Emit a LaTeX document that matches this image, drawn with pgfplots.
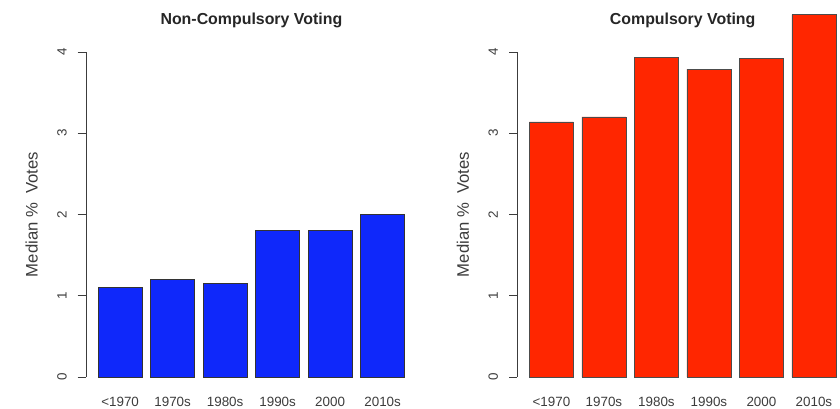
\documentclass[border=0pt]{standalone}
\usepackage{pgfplots}
\pgfplotsset{compat=1.18}
\usepackage{fontspec}
\setmainfont{Liberation Sans}

\definecolor{barblue}{RGB}{15,40,250}
\definecolor{barred}{RGB}{255,38,0}
\definecolor{axgray}{RGB}{60,60,60}

\newcommand\tickfont{\fontsize{13.4bp}{16bp}\selectfont}
\newcommand\titlefont{\fontsize{15.9bp}{18bp}\selectfont\bfseries}
\newcommand\labfont{\fontsize{16.7bp}{20bp}\selectfont}

% one R-style barplot panel
\pgfplotsset{
  rpanel/.style={
    scale only axis,
    width=330.75bp, height=325bp,
    xmin=-0.65, xmax=5.65,
    ymin=0, ymax=4,
    clip=false,
    axis y line=left,
    axis x line*=bottom,
    x axis line style={draw=none},
    y axis line style={-, draw=axgray, line width=0.6bp},
    tick align=outside,
    major tick length=8.3bp,
    major x tick style={draw=none},
    major y tick style={draw=axgray, line width=0.6bp},
    xtick={0,...,5},
    xticklabels={<1970,1970s,1980s,1990s,2000,2010s},
    ytick={0,1,2,3,4},
    /pgf/number format/assume math mode=true,
    xticklabel style={font=\tickfont, text=axgray, anchor=base, yshift=-20.7bp},
    yticklabel style={font=\tickfont, text=axgray, xshift=-11.2bp, rotate=90, anchor=base},
    every axis title shift=0pt,
    title style={font=\titlefont, text=black!85, at={(axis description cs:0.5,1)}, anchor=base, yshift=28bp},
    ylabel={Median \%\ \ Votes},
    ylabel style={font=\labfont, text=axgray, at={([xshift=-48.5bp]axis description cs:0,0.5)}, anchor=base},
    ybar, bar width=44bp,
  },
}

\begin{document}
\begin{tikzpicture}
\useasboundingbox (0,0) rectangle (840bp,409bp);

\begin{axis}[rpanel, at={(86bp,32bp)}, anchor=south west,
  title={Non-Compulsory Voting}]
  \addplot[fill=barblue, draw=black!80, line width=0.5bp]
    coordinates {(0,1.10) (1,1.20) (2,1.15) (3,1.80) (4,1.80) (5,2.00)};
\end{axis}

\begin{axis}[rpanel, at={(517.3bp,32bp)}, anchor=south west,
  title={Compulsory Voting}]
  \addplot[fill=barred, draw=black!70, line width=0.5bp]
    coordinates {(0,3.14) (1,3.20) (2,3.93) (3,3.79) (4,3.92) (5,4.46)};
\end{axis}
\end{tikzpicture}
\end{document}
